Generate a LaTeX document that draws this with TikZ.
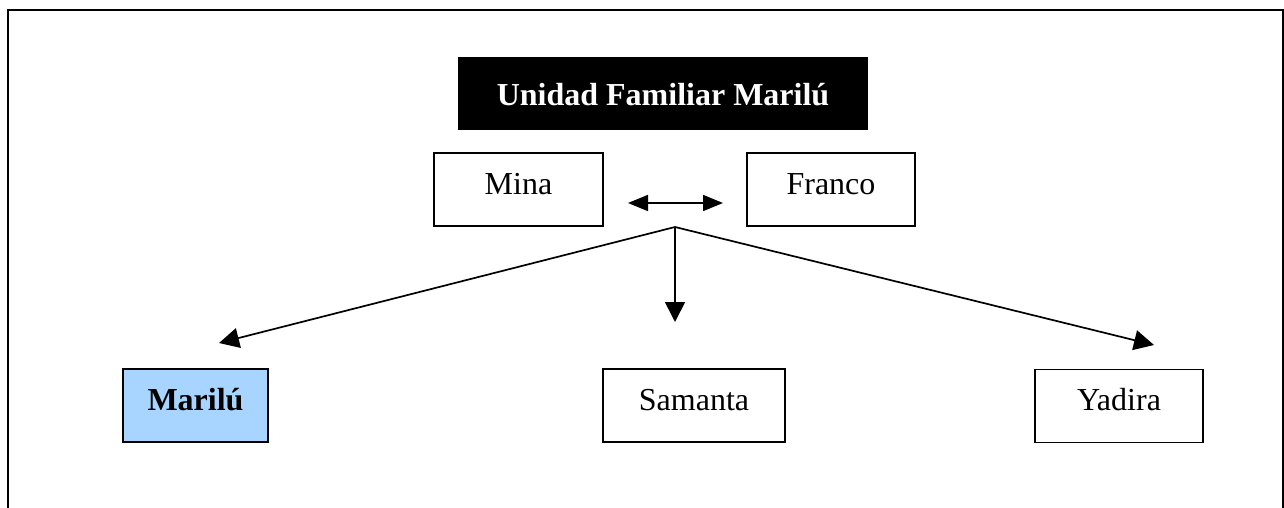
\documentclass[tikz,border=0pt]{standalone}
\usepackage{fontspec}
\setmainfont{Liberation Serif}
\usetikzlibrary{arrows.meta}
\definecolor{mblue}{RGB}{168,213,255}
\begin{document}
\begin{tikzpicture}[x=0.5pt,y=-0.5pt,
  font=\fontsize{16}{19}\selectfont,
  person/.style={draw=black,line width=0.9pt,inner sep=0pt,
    text height=20.5pt,text depth=16pt},
  titlebox/.style={fill=black,text=white,inner sep=0pt,font=\fontsize{16}{19}\selectfont\bfseries,
    text height=24pt,text depth=12.5pt,minimum width=205pt},
  link/.style={line width=0.85pt,-{Triangle[length=10pt,width=10pt]}},
  dlink/.style={line width=0.85pt,{Triangle[length=10pt,width=8pt]}-{Triangle[length=10pt,width=8pt]}}]
\useasboundingbox (0,0) rectangle (1284,508);
\draw[line width=1pt] (8,530) -- (8,10) -- (1283,10) -- (1283,530);
\node[titlebox] (title) at (663,93.5) {Unidad Familiar Marilú};
\node[person,minimum width=84.5pt] (mina) at (518.5,189.5) {Mina};
\node[person,minimum width=84pt] (franco) at (831,189.5) {Franco};
\node[person,fill=mblue,minimum width=72.5pt,font=\fontsize{16}{19}\selectfont\bfseries] (marilu) at (195.5,405.5) {Marilú};
\node[person,minimum width=91pt] (samanta) at (694,405.5) {Samanta};
\node[person,minimum width=84pt] (yadira) at (1119,406) {Yadira};
\coordinate (br) at (675,227);
\coordinate (tipL) at (219,343);
\coordinate (tipS) at (675,322);
\coordinate (tipY) at (1154,345);
\coordinate (dl) at (628,203);
\coordinate (dr) at (723,203);
\draw[dlink] (dl) -- (dr);
\draw[link] (br) -- (tipL);
\draw[link] (br) -- (tipS);
\draw[link] (br) -- (tipY);
\end{tikzpicture}
\end{document}
